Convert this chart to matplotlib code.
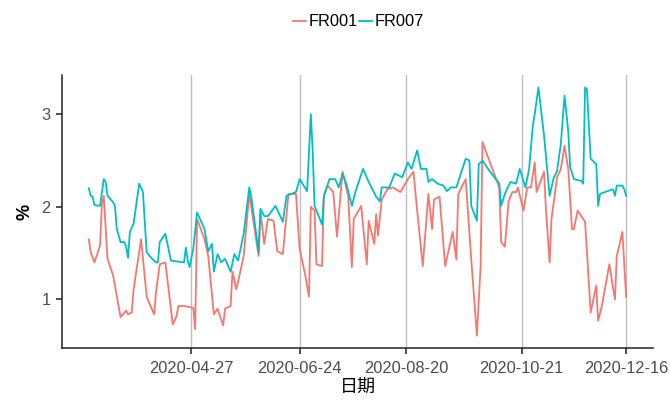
import numpy as np
import pandas as pd
import matplotlib
matplotlib.use("Agg")
import matplotlib.pyplot as plt

plt.rcParams['font.family'] = ['Liberation Sans', 'Noto Sans CJK SC', 'DejaVu Sans']

# FR001
fr001_dates = ["03-03", "03-04", "03-06", "03-09", "03-10", "03-11", "03-13", "03-16", "03-20", "03-23",
               "03-24", "03-26", "03-27", "03-31", "04-03", "04-07", "04-08", "04-10", "04-13", "04-17",
               "04-19", "04-20", "04-23", "04-28", "04-29", "04-30", "05-04", "05-06", "05-09", "05-11",
               "05-14", "05-15", "05-18", "05-19", "05-21", "05-22", "05-25", "05-28", "06-02", "06-03",
               "06-05", "06-07", "06-10", "06-12", "06-15", "06-18", "06-22", "06-24", "06-27", "06-29",
               "06-30", "07-02", "07-03", "07-06", "07-07", "07-09", "07-12", "07-14", "07-17", "07-20",
               "07-22", "07-23", "07-27", "07-30", "07-31", "08-03", "08-04", "08-05", "08-07", "08-10",
               "08-13", "08-17", "08-21", "08-24", "08-26", "08-29", "09-01", "09-03", "09-04", "09-07",
               "09-10", "09-14", "09-16", "09-17", "09-21", "09-24", "09-27", "09-29", "09-30", "10-02",
               "10-09", "10-10", "10-12", "10-14", "10-16", "10-18", "10-19", "10-22", "10-24", "10-26",
               "10-28", "10-29", "11-02", "11-03", "11-05", "11-06", "11-09", "11-11", "11-13", "11-15",
               "11-17", "11-18", "11-20", "11-24", "11-27", "11-30", "12-01", "12-03", "12-07", "12-10",
               "12-11", "12-14", "12-16"]
fr001_vals = [1.65, 1.51, 1.40, 1.58, 2.03, 2.12, 1.44, 1.26, 0.81, 0.88,
              0.84, 0.86, 1.11, 1.65, 1.03, 0.84, 1.08, 1.38, 1.40, 0.73,
              0.82, 0.93, 0.93, 0.91, 0.68, 1.87, 1.65, 1.47, 0.84, 0.90,
              0.72, 0.90, 0.93, 1.30, 1.11, 1.19, 1.47, 2.14, 1.47, 1.96,
              1.60, 1.87, 1.85, 1.52, 1.49, 2.14, 2.14, 1.55, 1.26, 1.03,
              2.00, 1.96, 1.38, 1.36, 2.12, 2.23, 2.16, 1.68, 2.38, 2.12,
              1.35, 1.87, 2.01, 1.38, 1.85, 1.60, 1.92, 1.69, 2.08, 2.19,
              2.21, 2.16, 2.30, 2.38, 1.96, 1.36, 2.14, 1.76, 2.08, 2.11,
              1.36, 1.73, 1.43, 2.14, 2.30, 1.43, 0.61, 1.36, 2.70, 2.59,
              2.21, 1.62, 1.57, 2.06, 2.16, 2.16, 2.21, 1.96, 2.21, 2.21,
              2.48, 2.16, 2.38, 1.98, 1.40, 1.87, 2.32, 2.41, 2.66, 2.41,
              1.76, 1.76, 1.96, 1.84, 0.86, 1.15, 0.77, 0.93, 1.38, 1.00,
              1.47, 1.73, 1.03]

# FR007
fr007_dates = ["03-03", "03-04", "03-05", "03-06", "03-09", "03-11", "03-12", "03-13", "03-16", "03-17",
               "03-18", "03-20", "03-22", "03-23", "03-24", "03-25", "03-27", "03-30", "04-01", "04-03",
               "04-05", "04-08", "04-09", "04-10", "04-13", "04-16", "04-23", "04-24", "04-25", "04-26",
               "04-28", "04-30", "05-04", "05-06", "05-08", "05-09", "05-11", "05-13", "05-15", "05-18",
               "05-20", "05-22", "05-25", "05-28", "05-29", "06-02", "06-03", "06-05", "06-07", "06-11",
               "06-15", "06-17", "06-22", "06-24", "06-28", "06-30", "07-01", "07-02", "07-06", "07-07",
               "07-10", "07-13", "07-15", "07-17", "07-19", "07-22", "07-24", "07-28", "07-31", "08-04",
               "08-06", "08-07", "08-11", "08-14", "08-18", "08-21", "08-23", "08-26", "08-28", "08-31",
               "09-01", "09-03", "09-06", "09-09", "09-11", "09-13", "09-16", "09-21", "09-23", "09-24",
               "09-27", "09-28", "09-30", "10-03", "10-09", "10-10", "10-12", "10-15", "10-18", "10-20",
               "10-23", "10-25", "10-27", "10-28", "10-30", "11-02", "11-05", "11-07", "11-09", "11-11",
               "11-13", "11-15", "11-16", "11-18", "11-22", "11-23", "11-24", "11-25", "11-27", "11-30",
               "12-01", "12-02", "12-06", "12-09", "12-10", "12-11", "12-14", "12-15", "12-16"]
fr007_vals = [2.20, 2.12, 2.11, 2.02, 2.01, 2.30, 2.27, 2.12, 2.05, 2.01,
              1.76, 1.62, 1.62, 1.57, 1.45, 1.73, 1.82, 2.25, 2.16, 1.51,
              1.46, 1.40, 1.40, 1.62, 1.71, 1.42, 1.40, 1.56, 1.42, 1.35,
              1.55, 1.94, 1.76, 1.52, 1.60, 1.30, 1.49, 1.40, 1.44, 1.30,
              1.49, 1.42, 1.71, 2.21, 2.12, 1.51, 1.98, 1.90, 1.90, 2.01,
              1.84, 2.12, 2.16, 2.30, 2.17, 3.00, 2.60, 2.01, 1.81, 2.12,
              2.30, 2.30, 2.21, 2.36, 2.25, 2.01, 2.17, 2.41, 2.27, 2.11,
              2.06, 2.21, 2.21, 2.36, 2.32, 2.48, 2.41, 2.61, 2.41, 2.41,
              2.27, 2.30, 2.25, 2.23, 2.17, 2.21, 2.21, 2.52, 2.50, 2.01,
              1.85, 2.46, 2.50, 2.41, 2.25, 2.01, 2.14, 2.27, 2.25, 2.41,
              2.21, 2.41, 2.88, 3.00, 3.29, 2.77, 2.12, 2.30, 2.39, 2.68,
              3.20, 2.81, 2.43, 2.30, 2.28, 2.25, 3.29, 3.27, 2.52, 2.46,
              2.01, 2.14, 2.17, 2.19, 2.12, 2.23, 2.23, 2.19, 2.12]

tick_labels = ["2020-04-27", "2020-06-24", "2020-08-20", "2020-10-21", "2020-12-16"]

d1 = pd.to_datetime(["2020-" + d for d in fr001_dates])
d7 = pd.to_datetime(["2020-" + d for d in fr007_dates])
ticks = pd.to_datetime(tick_labels)

fig = plt.figure(figsize=(6.7, 4.05), dpi=100)
ax = fig.add_axes([0.0925, 0.1407, 0.8821, 0.6741])

l1, = ax.plot(d1, fr001_vals, color="#F8766D", lw=1.3, label="FR001")
l7, = ax.plot(d7, fr007_vals, color="#00BFC4", lw=1.3, label="FR007")

# ggplot-like 5% expansion
start, end = min(d1[0], d7[0]), max(d1[-1], d7[-1])
pad = (end - start) * 0.05
ax.set_xlim(start - pad, end + pad)
allv = np.array(fr001_vals + fr007_vals)
ypad = (allv.max() - allv.min()) * 0.05
ax.set_ylim(allv.min() - ypad, allv.max() + ypad)

ax.set_xticks(ticks)
ax.set_xticklabels(tick_labels)
ax.set_yticks([1, 2, 3])
ax.xaxis.grid(True, color="#BEBEBE", lw=1)
ax.set_axisbelow(True)

for s in ["top", "right"]:
    ax.spines[s].set_visible(False)
for s in ["left", "bottom"]:
    ax.spines[s].set_color("#222222")
    ax.spines[s].set_linewidth(1.1)
ax.tick_params(axis="both", colors="#222222", labelcolor="#4D4D4D", labelsize=11.8, length=4.5, width=1.1)
ax.tick_params(axis="x", pad=5)

ax.set_xlabel("日期", fontsize=13, family=["Noto Sans CJK SC", "DejaVu Sans"], labelpad=2)
ax.set_ylabel("%", fontsize=13, fontweight="bold", labelpad=6)

fig.legend(handles=[l1, l7], loc="center", bbox_to_anchor=(0.535, 0.946), ncol=2, frameon=False,
           fontsize=11.8, handlelength=0.8, handletextpad=0.15, columnspacing=0.1)

fig.savefig("out.png", dpi=100)
